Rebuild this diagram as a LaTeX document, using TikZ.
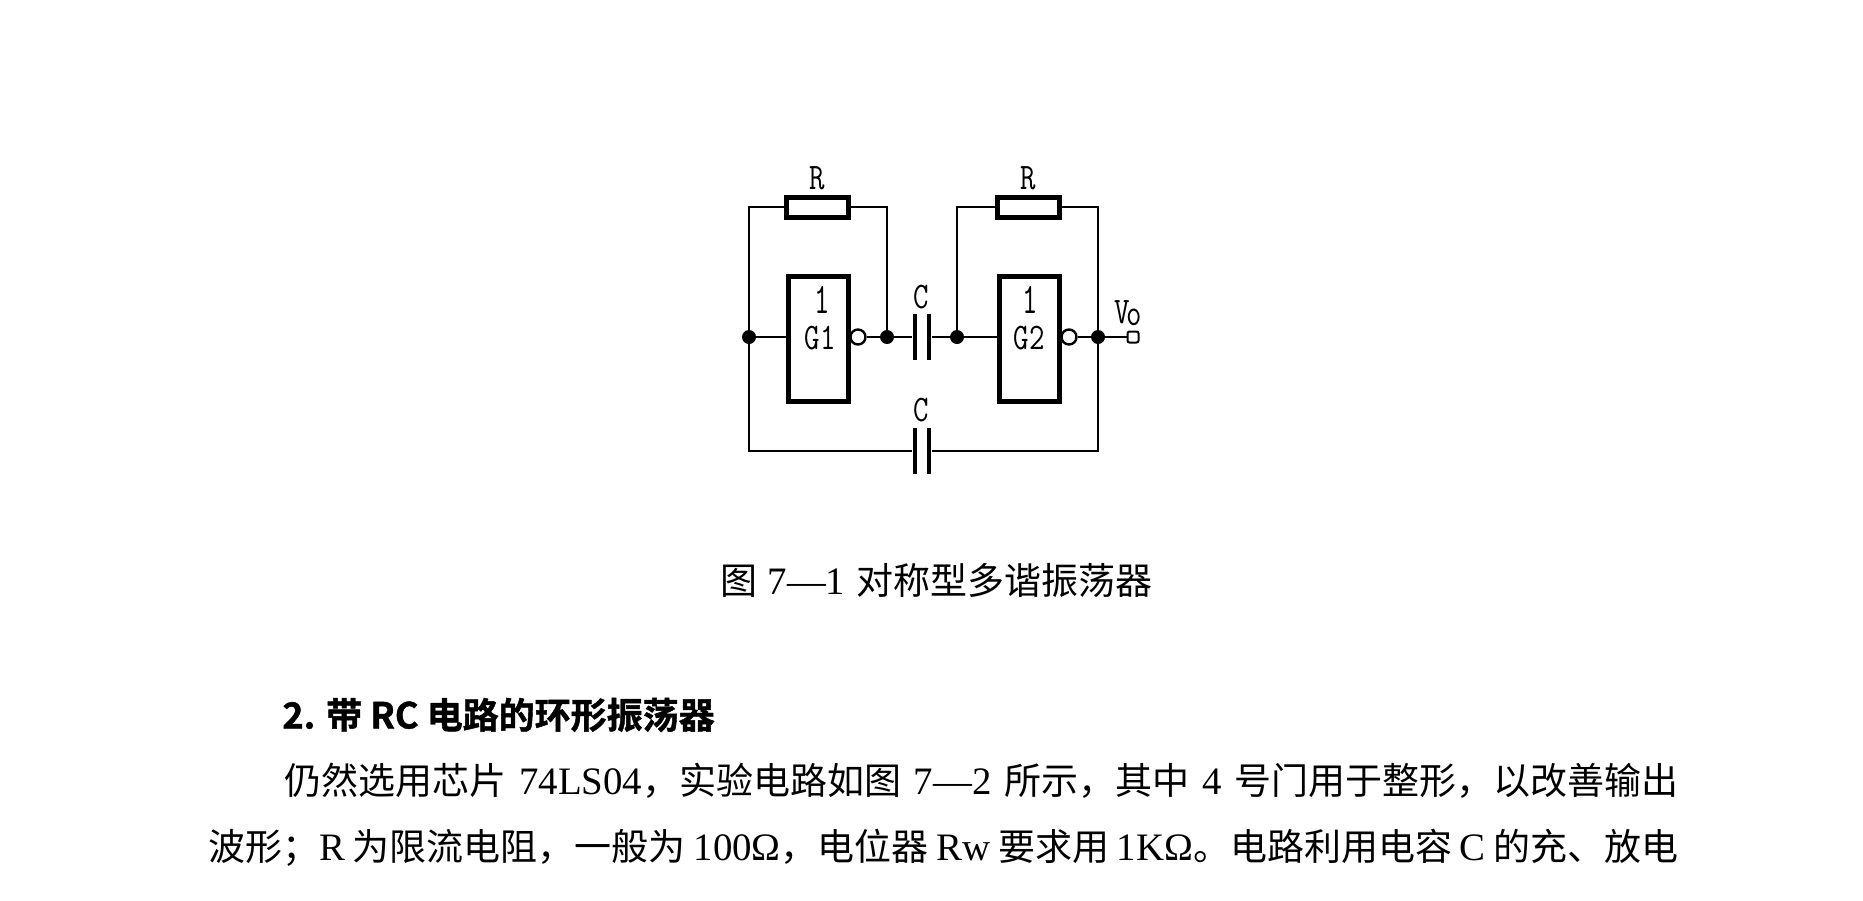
\documentclass[tikz,border=0pt]{standalone}
\usepackage{graphicx}
\usepackage{fontspec}
\setmainfont{Liberation Serif}[Scale=1.05]
\newfontfamily\cjk{Noto Sans CJK SC}
\newfontfamily\cjkb{Noto Sans CJK SC}[BoldFont={Noto Sans CJK SC Bold}]
\newcommand{\tallab}[1]{\scalebox{1}[1.25]{#1}}
\usetikzlibrary{positioning}
\begin{document}
\begin{tikzpicture}[
			     x=0.5pt, y=-0.5pt,
			     wire/.style={line width=1.45pt},
			     gatebox/.style={draw,line width=2.5pt,minimum width=30pt,minimum height=62.5pt,inner sep=0pt,fill=white},
			     resbox/.style={draw,line width=2.5pt,minimum width=31pt,minimum height=10pt,inner sep=0pt,fill=white},
			     plate/.style={fill,minimum width=2.3pt,minimum height=23pt,inner sep=0pt},
			     joint/.style={circle,fill,minimum size=7pt,inner sep=0pt},
			     bubble/.style={circle,draw,line width=1.2pt,minimum size=7.5pt,inner sep=0pt,fill=white},
			     pin/.style={draw,line width=1pt,minimum size=5.5pt,inner sep=0pt,fill=white,rounded corners=1pt},
			     lab/.style={font=\ttfamily\addfontfeature{FakeBold=1.2}\fontsize{15pt}{15pt}\selectfont,inner sep=0pt},
			     textline/.style={anchor=west,inner sep=0pt,font=\cjk\fontsize{18.5pt}{20pt}\selectfont}
			     ]
\useasboundingbox[fill=white] (0,0) rectangle (1863,900);
\node[joint] (j1) at (749,337) {};
\node[joint] (j2) at (887,337) {};
\node[joint] (j3) at (957,337) {};
\node[joint] (j4) at (1098,337) {};
\node[gatebox] (g1) at (818.5,339) {};
\node[gatebox] (g2) at (1029.5,339) {};
\node[bubble] (b1) at (858,337) {};
\node[bubble] (b2) at (1069,337) {};
\node[pin] (vo) at (1133,337) {};
\node[resbox] (r1) at (817,207) {};
\node[resbox] (r2) at (1028,207) {};
\node[plate] (c1a) at (915,337) {};
\node[plate] (c1b) at (929,337) {};
\node[plate] (c2a) at (915,451) {};
\node[plate] (c2b) at (929,451) {};
\coordinate (tl1) at (749,207);
\coordinate (tr1) at (887,207);
\coordinate (tl2) at (957,207);
\coordinate (tr2) at (1098,207);
\coordinate (bl) at (749,451);
\coordinate (br) at (1098,451);
\draw[wire] (j1) -- (tl1) -- (r1);
\draw[wire] (r1) -- (tr1) -- (j2);
\draw[wire] (j3) -- (tl2) -- (r2);
\draw[wire] (r2) -- (tr2) -- (j4);
\draw[wire] (j1) -- (bl) -- (c2a);
\draw[wire] (c2b) -- (br) -- (j4);
\draw[wire] (j1) -- (j1-|g1.west);
\draw[wire] (b1) -- (j2);
\draw[wire] (j2) -- (c1a);
\draw[wire] (c1b) -- (j3);
\draw[wire] (j3) -- (j3-|g2.west);
\draw[wire] (b2) -- (j4);
\draw[wire] (j4) -- (vo);
\node[lab] (lr1) at (817,178) {\tallab{R}};
\node[lab] (lr2) at (1028,178) {\tallab{R}};
\node[lab] (lc1) at (921,297) {\tallab{C}};
\node[lab] (lc2) at (921,410) {\tallab{C}};
\node[lab] (one1) at (822,300) {\scalebox{1}[1.45]{1}};
\node[lab] (one2) at (1030,300) {\scalebox{1}[1.45]{1}};
\node[lab] (lg1) at (820,338) {\tallab{G1}};
\node[lab] (lg2) at (1029,338) {\tallab{G2}};
\node[lab] (lvo) at (1128,313) {\tallab{V\kern-1.5pt\raisebox{-1pt}{o}}};
\node[textline,anchor=center] (cap) at (936,581) {\makebox[216pt][s]{图 {\rmfamily 7—1} 对称型多谐振荡器}};
\node[textline,font=\cjkb\bfseries\addfontfeature{FakeBold=1.2}\fontsize{18pt}{20pt}\selectfont] (head) at (282,715) {2. 带 RC 电路的环形振荡器};
\node[textline] (l1) at (284,781) {\makebox[697pt][s]{仍然选用芯片 {\rmfamily 74LS04}，实验电路如图 {\rmfamily 7—2} 所示，其中 {\rmfamily 4} 号门用于整形，以改善输出}};
\node[textline] (l2) at (208,848) {\makebox[735pt][s]{波形；{\rmfamily R} 为限流电阻，一般为 {\rmfamily 100Ω}，电位器 {\rmfamily Rw} 要求用 {\rmfamily 1KΩ}。电路利用电容 {\rmfamily C} 的充、放电}};
\end{tikzpicture}
\end{document}
